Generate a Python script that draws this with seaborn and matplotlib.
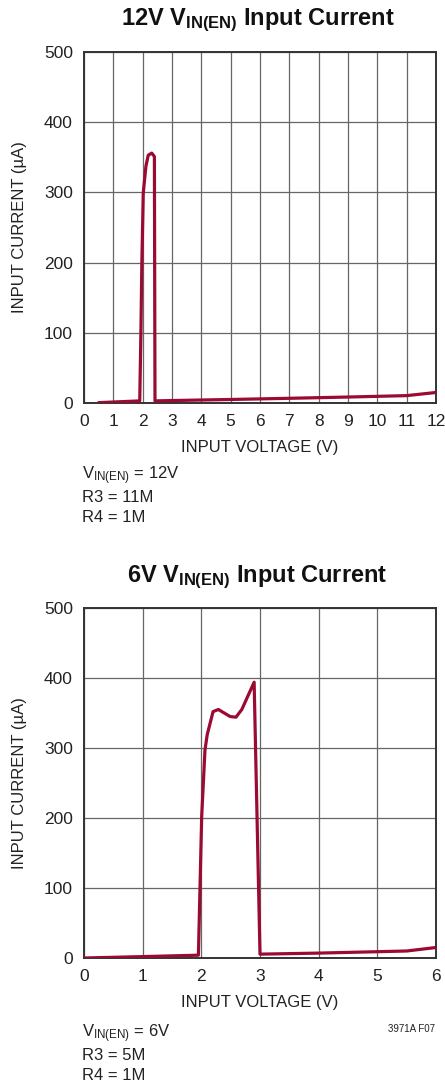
import matplotlib
matplotlib.use("Agg")
import matplotlib.pyplot as plt
import seaborn as sns
import pandas as pd

sns.set_theme(style="white")
plt.rcParams["font.family"] = ["Liberation Sans Narrow", "Liberation Sans", "DejaVu Sans"]
plt.rcParams["mathtext.default"] = "regular"

# 12V enable-pin input current
v12_voltage = [0.5, 1.9, 1.94, 1.97, 2.02, 2.11, 2.19, 2.31, 2.40, 2.42, 3.0, 5.0, 7.0, 9.0, 11.0, 12.0]
v12_current = [0.5, 3, 100, 194, 299, 337, 353, 356, 351, 3, 3.5, 5, 6.7, 8.5, 10.5, 15]

# 6V enable-pin input current
v6_voltage = [0.0, 1.0, 1.95, 2.006, 2.062, 2.10, 2.20, 2.29, 2.49, 2.59, 2.69, 2.90, 3.0, 4.0, 5.5, 6.0]
v6_current = [0.0, 2, 4, 202, 297, 319, 352, 355, 345, 344, 355, 394, 5.5, 7, 10, 15]

x_ticks_12 = list(range(0, 13))
x_ticks_6 = list(range(0, 7))
y_ticks = [0, 100, 200, 300, 400, 500]

LINE_COLOR = "#9b0a32"
GRID_COLOR = "#666666"
SPINE_COLOR = "#333333"
TEXT_COLOR = "#222222"

W, H = 445, 1085
fig = plt.figure(figsize=(W / 100, H / 100), dpi=100)


def px_axes(left, top, right, bottom):
    return fig.add_axes([left / W, 1 - bottom / H, (right - left) / W, (bottom - top) / H])


def draw_panel(ax, x, y, xticks, title, notes, title_y, notes_y):
    df = pd.DataFrame({"voltage": x, "current": y})
    sns.lineplot(data=df, x="voltage", y="current", ax=ax, sort=False,
                 estimator=None, color=LINE_COLOR, linewidth=2.3, zorder=3)
    ax.set_xlim(xticks[0], xticks[-1])
    ax.set_ylim(0, 500)
    ax.set_xticks(xticks)
    ax.set_yticks(y_ticks)
    ax.grid(True, color=GRID_COLOR, linewidth=0.9)
    ax.set_axisbelow(True)
    for s in ax.spines.values():
        s.set_visible(True)
        s.set_color(SPINE_COLOR)
        s.set_linewidth(1.4)
    ax.tick_params(length=0, labelsize=12.5, colors=TEXT_COLOR, pad=8)
    ax.set_xlabel("INPUT VOLTAGE (V)", fontsize=12, color=TEXT_COLOR, labelpad=8)
    ax.set_ylabel("INPUT CURRENT (µA)", fontsize=12, color=TEXT_COLOR, labelpad=12)
    fig.text(0.5 + 35 / W, 1 - title_y / H, title, ha="center", va="center",
             fontsize=17, fontweight="bold", color="#111111")
    for i, line in enumerate(notes):
        fig.text(82 / W, 1 - (notes_y + i * 21) / H, line, ha="left", va="center",
                 fontsize=12, color=TEXT_COLOR)


ax1 = px_axes(84, 52, 436, 403)
draw_panel(ax1, v12_voltage, v12_current, x_ticks_12,
           r"12V V$_{IN(EN)}$ Input Current",
           [r"V$_{IN(EN)}$ = 12V", "R3 = 11M", "R4 = 1M"], 20, 476)

ax2 = px_axes(84, 608, 436, 958)
draw_panel(ax2, v6_voltage, v6_current, x_ticks_6,
           r"6V V$_{IN(EN)}$ Input Current",
           [r"V$_{IN(EN)}$ = 6V", "R3 = 5M", "R4 = 1M"], 577, 1034)

fig.text(435 / W, 1 - 1029 / H, "3971A F07", ha="right", va="center",
         fontsize=7, color=TEXT_COLOR)

fig.savefig("out.png", dpi=100, facecolor="white")
